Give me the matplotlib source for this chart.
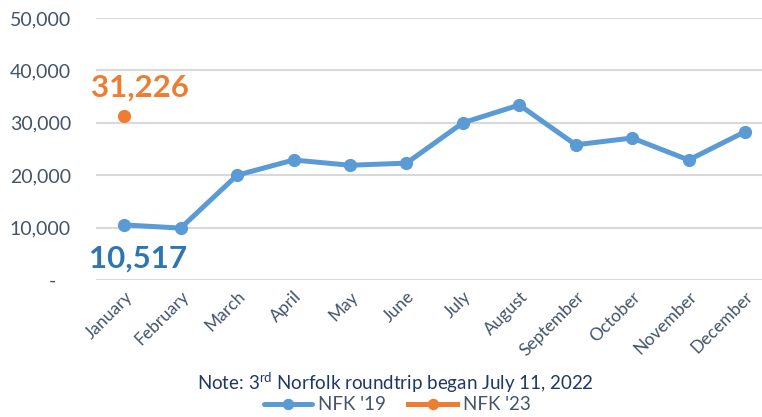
import numpy as np
import matplotlib.pyplot as plt

months = ["January", "February", "March", "April", "May", "June", "July",
          "August", "September", "October", "November", "December"]
nfk_19 = [10517, 9900, 20000, 22900, 21900, 22300, 30000, 33400, 25800, 27100, 22900, 28300]
nfk_23 = [31226]
y_ticks = [0, 10000, 20000, 30000, 40000, 50000]
y_tick_labels = ["-   ", "10,000", "20,000", "30,000", "40,000", "50,000"]

BLUE = "#5B9BD5"
DARK_BLUE = "#2E75B6"
ORANGE = "#ED7D31"
TEXT = "#44546A"
NAVY = "#1F3864"

plt.rcParams["font.family"] = ["Lato", "DejaVu Sans"]

fig = plt.figure(figsize=(7.62, 4.17), dpi=100)
ax = fig.add_axes([96 / 762, 1 - 280 / 417, 1 - 96 / 762, (280 - 18) / 417])

x = np.arange(len(months))
ax.plot(x, nfk_19, color=BLUE, lw=3.6, marker="o", ms=8.5, label="NFK '19",
        solid_capstyle="round", zorder=3)
ax.plot(x[:len(nfk_23)], nfk_23, color=ORANGE, lw=3.6, marker="o", ms=8.5,
        label="NFK '23", zorder=3)

ax.text(x[0] + 0.28, nfk_23[0] + 5400, f"{nfk_23[0]:,}", color=ORANGE,
        fontsize=22.5, fontweight="bold", ha="center", va="center")
ax.text(x[0] + 0.25, nfk_19[0] - 6400, f"{nfk_19[0]:,}", color=DARK_BLUE,
        fontsize=22.5, fontweight="bold", ha="center", va="center")

ax.set_xlim(-0.5, 11.3)
ax.set_ylim(0, 50000)
ax.set_yticks(y_ticks)
ax.set_yticklabels(y_tick_labels)
ax.set_xticks(x)
ax.set_xticklabels(months, rotation=45, ha="right", rotation_mode="anchor")
ax.tick_params(axis="y", length=0, pad=18, labelsize=14, labelcolor=TEXT)
ax.tick_params(axis="x", length=0, pad=6, labelsize=12.5, labelcolor=TEXT)
ax.grid(axis="y", color="#D9D9D9", lw=1.5)
ax.set_axisbelow(True)
for s in ax.spines.values():
    s.set_visible(False)

fig.text(395 / 762, 1 - 383 / 417, "Note: 3$^{\\mathregular{rd}}$ Norfolk roundtrip began July 11, 2022",
         color=NAVY, fontsize=13.5, ha="center", va="center")
fig.legend(loc="center", bbox_to_anchor=(397 / 762, 1 - 405 / 417), ncol=2,
           frameon=False, fontsize=13.5, labelcolor=TEXT, handlelength=2.6,
           columnspacing=1.2, handletextpad=0.3, borderpad=0, markerscale=0.85)

fig.savefig("out.png", dpi=100)
